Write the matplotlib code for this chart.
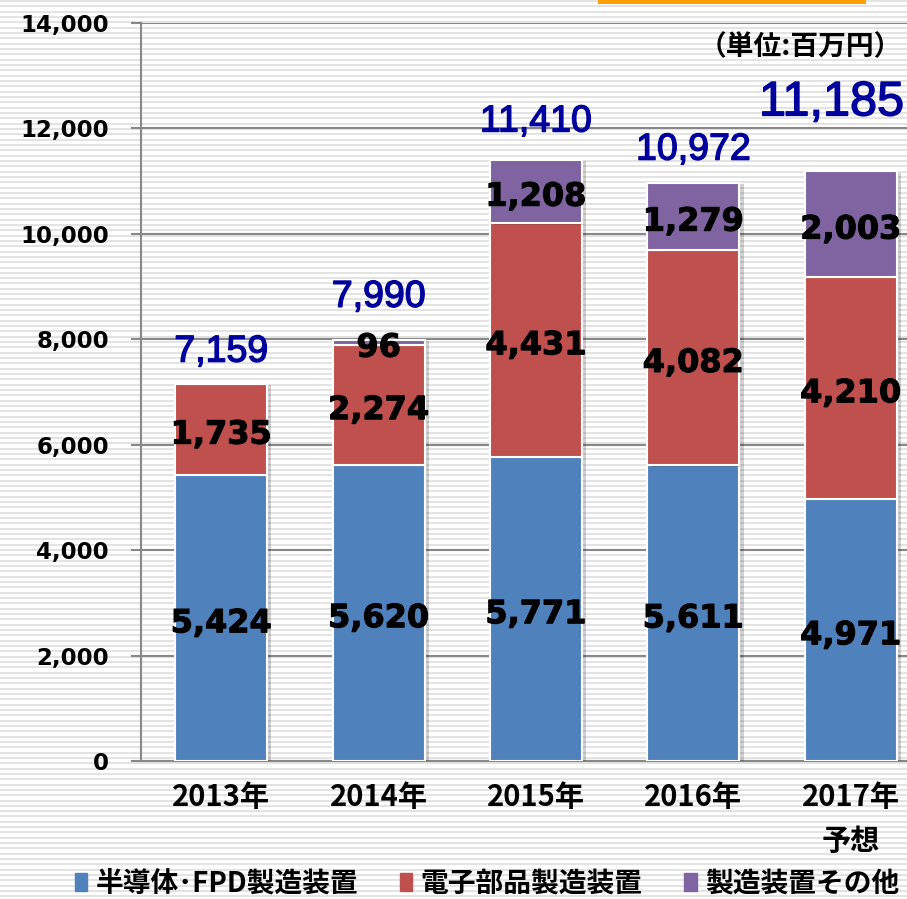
import numpy as np
import matplotlib
matplotlib.use("Agg")
import matplotlib.pyplot as plt
from matplotlib.patches import Patch, Rectangle
import matplotlib.patheffects as pe

plt.rcParams['font.family'] = ['Noto Sans CJK JP', 'DejaVu Sans']

years = ["2013年", "2014年", "2015年", "2016年", "2017年\n予想"]
semi_fpd = [5424, 5620, 5771, 5611, 4971]
electronic = [1735, 2274, 4431, 4082, 4210]
other = [0, 96, 1208, 1279, 2003]
totals = [7159, 7990, 11410, 10972, 11185]
series_names = ["半導体･FPD製造装置", "電子部品製造装置", "製造装置その他"]

colors = ["#4F81BD", "#C0504D", "#8064A2"]
total_gap_px = [14, 25, 20, 15, 46]
total_dx_px = [0, 0, 0, 0, -19]
total_size = [27, 27, 27, 27, 35]

W, H = 907, 899
fig = plt.figure(figsize=(W / 100, H / 100), dpi=100)

# striped background
bg = fig.add_axes([0, 0, 1, 1], zorder=-5)
bg.set_xlim(0, W)
bg.set_ylim(H, 0)
bg.axis("off")
for y0 in np.arange(0, H, 5.33):
    bg.axhspan(y0, y0 + 2, color="#e3e3e3", lw=0)
bg.add_patch(Rectangle((598, 0), 268, 4, color="#FF9F00", lw=0))

ax = fig.add_axes([141 / W, 1 - 761 / H, 790 / W, 738 / H])
ax.set_facecolor("none")
x = np.arange(len(years))
shadow = [pe.SimplePatchShadow(offset=(3, -1), alpha=0.18, shadow_rgbFace="#000000"), pe.Normal()]

bottom = np.zeros(len(x))
for vals, c in zip([semi_fpd, electronic, other], colors):
    vals = np.array(vals)
    bars = ax.bar(x, vals, 0.585, bottom=bottom, color=c, edgecolor="white", linewidth=1.5, zorder=3)
    for b in bars:
        b.set_path_effects(shadow)
    for xi, v, b0 in zip(x, vals, bottom):
        if v > 0:
            ax.text(xi, b0 + v / 2 - 110, f"{v:,}", ha="center", va="center", fontsize=23,
                    fontweight="bold", family="DejaVu Sans", color="black", zorder=5,
                    path_effects=[pe.withStroke(linewidth=0.8, foreground="black")])
    bottom = bottom + vals

for xi, t, top, gap, dx, fs in zip(x, totals, bottom, total_gap_px, total_dx_px, total_size):
    ax.annotate(f"{t:,}", (xi, top), xytext=(dx * 0.72, gap * 0.72), textcoords="offset points",
                ha="center", va="bottom", fontsize=fs, color="#00009C",
                family=["Liberation Sans Narrow", "Liberation Sans", "DejaVu Sans"], zorder=5,
                path_effects=[pe.withStroke(linewidth=1.0, foreground="#00009C")])

ax.set_xlim(-0.51, 4.51)
ax.set_ylim(0, 14000)
ax.set_yticks(np.arange(0, 14001, 2000))
ax.set_yticklabels([f"{v:,}" for v in range(0, 14001, 2000)], family="DejaVu Sans",
                   fontsize=16.5, fontweight="bold")
ax.yaxis.grid(True, color="#888888", linewidth=1.5, zorder=0)
ax.tick_params(axis="y", length=7, width=1.5, color="#888888", pad=16)
ax.tick_params(axis="x", length=0, pad=15)
ax.set_xticks(x)
ax.set_xticklabels(years, fontsize=21, fontweight="bold", linespacing=1.6)
for s in ["top", "right"]:
    ax.spines[s].set_visible(False)
ax.spines["left"].set_color("#888888")
ax.spines["left"].set_linewidth(1.5)
ax.spines["bottom"].set_color("#888888")
ax.spines["bottom"].set_linewidth(1.5)

fig.text(902 / W, 1 - 47 / H, "（単位:百万円）", ha="right", va="center", fontsize=20, fontweight="bold")

handles = [Patch(color=c) for c in colors]
fig.legend(handles, series_names, loc="center", bbox_to_anchor=(0.537, 1 - 884 / H), ncol=3,
           frameon=False, prop={"size": 20, "weight": "bold"}, handlelength=0.45, handleheight=0.6,
           handletextpad=0.3, columnspacing=1.5)

fig.savefig("out.png", dpi=100)
